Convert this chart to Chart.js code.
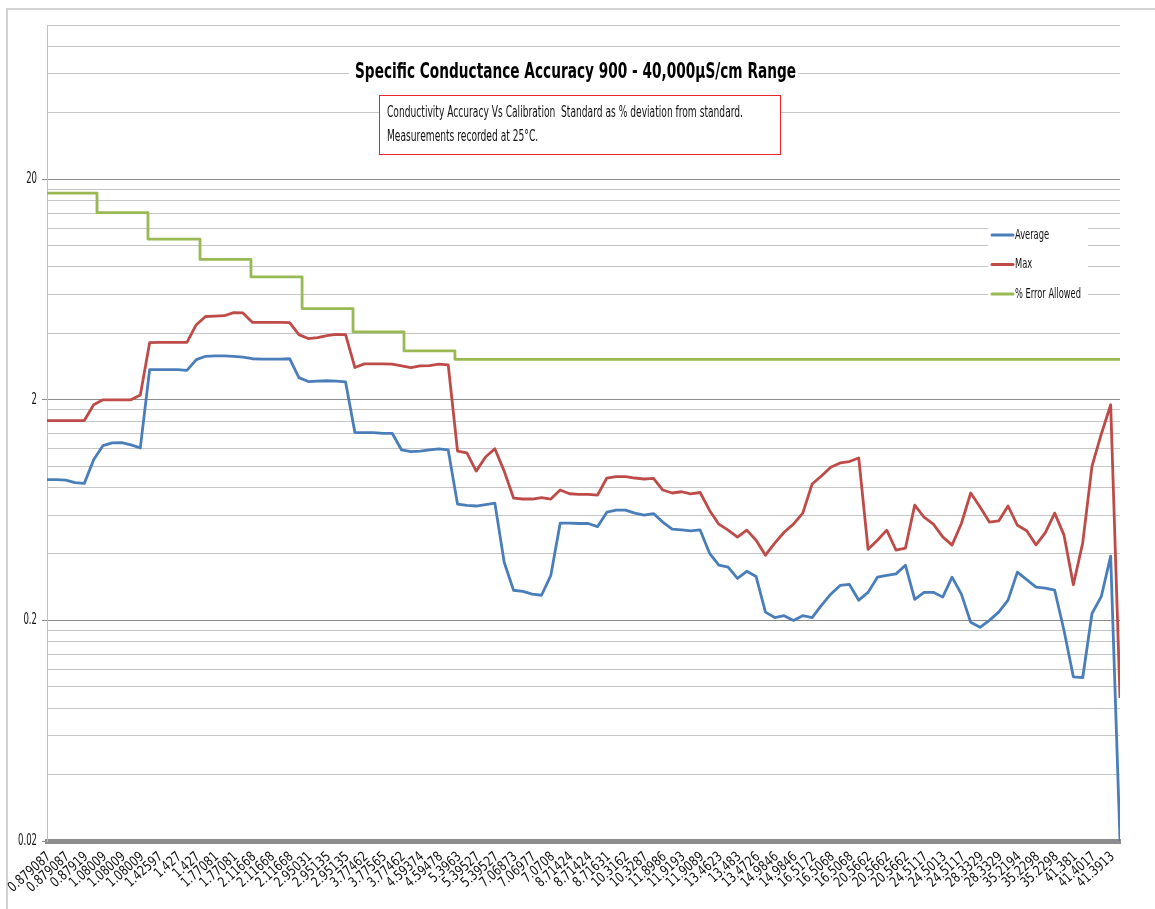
<!DOCTYPE html>
<html>
<head>
<meta charset="utf-8">
<title>Specific Conductance Accuracy</title>
<script src="https://cdn.jsdelivr.net/npm/chart.js@4.4.1/dist/chart.umd.min.js"></script>
<style>
  html, body { margin: 0; padding: 0; background: #fff; }
  canvas { display: block; }
</style>
</head>
<body>
<canvas id="chart" width="1155" height="909"></canvas>
<script>
// Category labels shown under the x axis (one per tick)
const xLabels = [
  "0.879087", "0.879087", "0.87919", "1.08009", "1.08009", "1.08009", "1.42597", "1.427", "1.427", "1.77081",
  "1.77081", "2.11668", "2.11668", "2.11668", "2.95031", "2.95135", "2.95135", "3.77462", "3.77565", "3.77462",
  "4.59374", "4.59478", "5.3963", "5.39527", "5.39527", "7.06873", "7.06977", "7.0708", "8.71424", "8.71424",
  "8.71631", "10.3162", "10.3287", "11.8986", "11.9193", "11.9089", "13.4623", "13.483", "13.4726", "14.9846",
  "14.9846", "16.5172", "16.5068", "16.5068", "20.5662", "20.5662", "20.5662", "24.5117", "24.5013", "24.5117",
  "28.3329", "28.3329", "35.2194", "35.2298", "35.2298", "41.381", "41.4017", "41.3913"
];

// readings are sampled every half label
const sampleStep = 0.5;

// Average % deviation (one row = 5 labels)
const avgVals = [
  0.87, 0.87, 0.865, 0.843, 0.836, 1.07, 1.24, 1.275, 1.28, 1.25,
  1.21, 2.74, 2.74, 2.74, 2.74, 2.72, 3.04, 3.15, 3.16, 3.16,
  3.15, 3.12, 3.07, 3.06, 3.06, 3.06, 3.07, 2.52, 2.42, 2.43,
  2.44, 2.43, 2.41, 1.42, 1.42, 1.42, 1.41, 1.41, 1.185, 1.164,
  1.17, 1.185, 1.198, 1.185, 0.673, 0.665, 0.66, 0.67, 0.68, 0.367,
  0.274, 0.271, 0.263, 0.26, 0.32, 0.552, 0.552, 0.55, 0.55, 0.532,
  0.619, 0.632, 0.632, 0.613, 0.6, 0.61, 0.558, 0.519, 0.514, 0.509,
  0.514, 0.404, 0.356, 0.349, 0.31, 0.334, 0.316, 0.218, 0.206, 0.21,
  0.2, 0.21, 0.206, 0.234, 0.263, 0.288, 0.291, 0.247, 0.268, 0.314,
  0.32, 0.325, 0.356, 0.249, 0.268, 0.268, 0.255, 0.314, 0.263, 0.196,
  0.186, 0.2, 0.218, 0.247, 0.331, 0.306, 0.283, 0.28, 0.274, 0.18,
  0.111, 0.11, 0.215, 0.257, 0.391, 0.02
];

// Max % deviation
const maxVals = [
  1.61, 1.61, 1.61, 1.61, 1.61, 1.9, 2.0, 2.0, 2.0, 2.0,
  2.1, 3.63, 3.64, 3.64, 3.64, 3.64, 4.38, 4.77, 4.79, 4.81,
  4.97, 4.95, 4.49, 4.49, 4.49, 4.49, 4.48, 3.95, 3.79, 3.83,
  3.91, 3.96, 3.95, 2.8, 2.91, 2.91, 2.91, 2.9, 2.85, 2.8,
  2.85, 2.86, 2.9, 2.88, 1.17, 1.15, 0.95, 1.1, 1.2, 0.95,
  0.717, 0.71, 0.71, 0.72, 0.71, 0.78, 0.75, 0.746, 0.746, 0.74,
  0.884, 0.896, 0.896, 0.884, 0.875, 0.88, 0.78, 0.756, 0.766, 0.75,
  0.76, 0.632, 0.546, 0.513, 0.477, 0.513, 0.462, 0.395, 0.448, 0.502,
  0.546, 0.613, 0.83, 0.903, 0.99, 1.035, 1.05, 1.09, 0.42, 0.462,
  0.513, 0.416, 0.425, 0.666, 0.587, 0.546, 0.478, 0.439, 0.55, 0.756,
  0.653, 0.558, 0.565, 0.66, 0.54, 0.51, 0.44, 0.5, 0.613, 0.487,
  0.29, 0.448, 1.0, 1.4, 1.9, 0.089
];

// % error allowed: level starts at the given label position
const errSteps = [0, 2.68, 5.41, 8.2, 10.93, 13.67, 16.4, 19.13, 21.86, 57.5];
const errVals = [17.3, 14.1, 10.7, 8.66, 7.22, 5.18, 4.06, 3.33, 3.05, 3.05];

const yMajor = [0.02, 0.2, 2, 20];
const yMax = 100;

const titleText = "Specific Conductance Accuracy 900 - 40,000\u00B5S/cm Range";
const noteLines = [
  "Conductivity Accuracy Vs Calibration  Standard as % deviation from standard.",
  "Measurements recorded at 25\u00B0C."
];

const FONT = "'Liberation Sans Narrow', 'Arial Narrow', 'DejaVu Sans Condensed', sans-serif";

// minor gridlines every 1/10 of each decade start, like Excel
const yGrid = [];
yMajor.forEach(function (b) {
  for (let k = 1; k <= 9; k++) {
    const v = +(b * k).toPrecision(6);
    if (v < yMax) yGrid.push(v);
  }
});
yGrid.push(yMax);

function isMajor(v) {
  return yMajor.indexOf(v) !== -1;
}

function toPoints(vals) {
  return vals.map(function (v, i) {
    return { x: i * sampleStep, y: v };
  });
}

// draw text squeezed along its baseline (the source font is very narrow)
function drawFitted(c, text, x, y, scale, angle) {
  c.save();
  c.translate(x, y);
  if (angle) c.rotate(angle);
  c.scale(scale, 1);
  c.fillText(text, 0, 0);
  c.restore();
}

const decor = {
  id: "decor",
  beforeDraw(chart) {
    const c = chart.ctx;
    c.save();
    c.fillStyle = "#fff";
    c.fillRect(0, 0, chart.width, chart.height);
    c.strokeStyle = "#c4c4c4";
    c.lineWidth = 1.5;
    c.beginPath();
    c.moveTo(7, chart.height);
    c.lineTo(7, 9);
    c.lineTo(chart.width, 9);
    c.stroke();
    c.restore();
  },
  afterDraw(chart) {
    const c = chart.ctx;
    const xs = chart.scales.x;
    const ys = chart.scales.y;
    c.save();
    c.textBaseline = "middle";

    // y tick labels
    c.fillStyle = "#111";
    c.textAlign = "right";
    c.font = "15px " + FONT;
    let k = Math.min(1, 19 / c.measureText("0.02").width);
    yMajor.forEach(function (v) {
      drawFitted(c, String(v), 37, ys.getPixelForValue(v), k);
    });

    // x tick labels, slanted
    c.font = "14px " + FONT;
    k = Math.min(1, 52 / c.measureText(xLabels[0]).width);
    xLabels.forEach(function (t, i) {
      drawFitted(c, t, xs.getPixelForValue(i) + 2, 855, k, -42 * Math.PI / 180);
    });

    c.textAlign = "left";
    // title
    c.fillStyle = "#fff";
    c.fillRect(349, 60, 449, 26);
    c.fillStyle = "#000";
    c.font = "bold 22px " + FONT;
    k = Math.min(1, 441 / c.measureText(titleText).width);
    drawFitted(c, titleText, 355, 72, k);

    // note box
    c.fillStyle = "#fff";
    c.fillRect(379.5, 95.5, 401, 59);
    c.strokeStyle = "#e8262b";
    c.lineWidth = 1;
    c.strokeRect(379.5, 95.5, 401, 59);
    c.fillStyle = "#111";
    c.font = "15px " + FONT;
    k = Math.min(1, 356 / c.measureText(noteLines[0]).width);
    drawFitted(c, noteLines[0], 387, 113, k);
    drawFitted(c, noteLines[1], 387, 137, k);

    // legend
    c.fillStyle = "#fff";
    c.fillRect(988, 222, 100, 84);
    const sets = chart.data.datasets;
    c.font = "14px " + FONT;
    k = Math.min(1, 66 / c.measureText(sets[2].label).width);
    sets.forEach(function (ds, i) {
      const ly = 235 + i * 29.5;
      c.strokeStyle = ds.borderColor;
      c.lineWidth = 3;
      c.lineCap = "round";
      c.beginPath();
      c.moveTo(992, ly);
      c.lineTo(1013, ly);
      c.stroke();
      c.fillStyle = "#111";
      drawFitted(c, ds.label, 1015, ly, k);
    });
    c.restore();
  }
};

new Chart(document.getElementById("chart"), {
  type: "line",
  data: {
    datasets: [
      {
        label: "Average",
        data: toPoints(avgVals),
        borderColor: "#4a7ebb",
        order: 3
      },
      {
        label: "Max",
        data: toPoints(maxVals),
        borderColor: "#be4b48",
        order: 2
      },
      {
        label: "% Error Allowed",
        data: errSteps.map(function (x, i) {
          return { x: x, y: errVals[i] };
        }),
        borderColor: "#98b954",
        stepped: true,
        order: 1
      }
    ]
  },
  options: {
    responsive: false,
    animation: false,
    devicePixelRatio: 1,
    layout: { padding: { top: 25, right: 35, left: 0, bottom: 0 } },
    plugins: {
      legend: { display: false },
      title: { display: false },
      tooltip: { enabled: false }
    },
    elements: {
      point: { radius: 0 },
      line: { borderWidth: 2.8, tension: 0, borderJoinStyle: "round", fill: false }
    },
    scales: {
      x: {
        type: "linear",
        min: 0,
        max: 57.5,
        afterBuildTicks: function (s) {
          s.ticks = xLabels.map(function (_, i) {
            return { value: i };
          });
        },
        afterFit: function (s) {
          s.height = 68;
          s.paddingLeft = 0;
          s.paddingRight = 0;
        },
        grid: { display: false, drawTicks: false },
        border: { display: true, color: "#8c8c8c", width: 5 },
        ticks: { display: false, autoSkip: false }
      },
      y: {
        type: "logarithmic",
        min: yMajor[0],
        max: yMax,
        afterBuildTicks: function (s) {
          s.ticks = yGrid.map(function (v) {
            return { value: v };
          });
        },
        afterFit: function (s) {
          s.width = 47;
        },
        grid: {
          color: function (c) {
            return isMajor(c.tick.value) ? "#8c8c8c" : "#c6c6c6";
          },
          tickColor: function (c) {
            return isMajor(c.tick.value) ? "#8c8c8c" : "rgba(0,0,0,0)";
          },
          tickLength: 5,
          lineWidth: 1
        },
        border: { color: "#c0c0c0", width: 1 },
        ticks: { display: false, autoSkip: false }
      }
    }
  },
  plugins: [decor]
});
</script>
</body>
</html>
